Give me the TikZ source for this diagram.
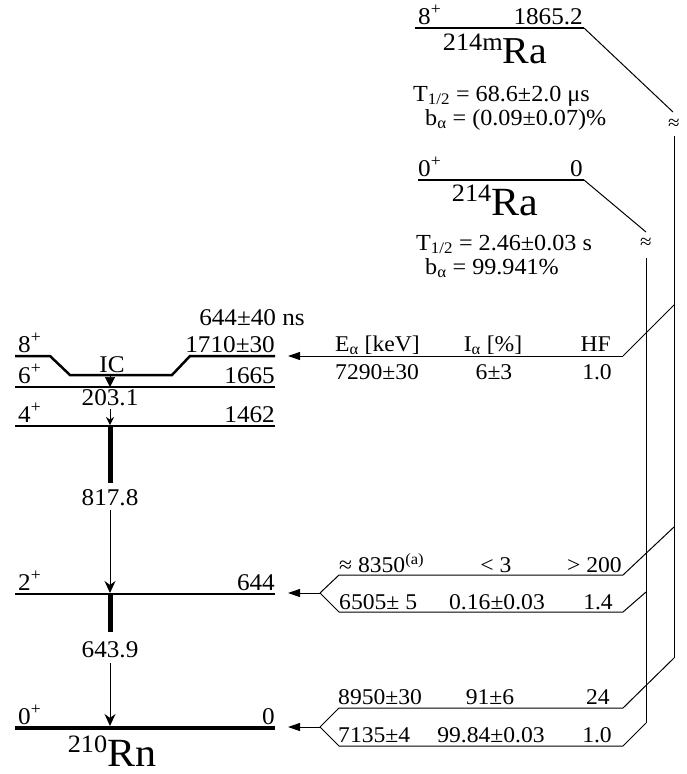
\documentclass[tikz,border=0pt]{standalone}
\usepackage{fontspec}
\setmainfont{Liberation Serif}[FakeStretch=1.05]
\usetikzlibrary{arrows.meta}
\newcommand{\nucl}[4]{{\fontsize{#3}{#3}\selectfont\raisebox{0.33em}{\fontsize{#4}{#4}\selectfont #1}#2}}
\begin{document}
\begin{tikzpicture}[x=1pt,y=-1pt,
  lvl/.style={line width=1.2pt},
  conn/.style={line width=1pt},
  lab/.style={font=\fontsize{24}{26}\selectfont, inner sep=0pt},
  tab/.style={font=\fontsize{22.5}{24}\selectfont, inner sep=0pt},
  half/.style={font=\fontsize{23}{24}\selectfont, inner sep=0pt},
  apx/.style={font=\fontsize{20}{20}\selectfont, inner sep=0pt},
  alph/.style={conn,-{Triangle[length=12pt,width=8pt]}},
  gam/.style={line width=1pt,-{Stealth[length=12pt,width=11pt]}},
  thk/.style={line width=5pt},
]
\useasboundingbox (0,0) rectangle (686,774);

% ---------- 210Rn levels ----------
\coordinate (r8a) at (15,356);
\coordinate (r8b) at (275,356);
\draw[line width=2.5pt,line join=miter] (r8a) -- (50,356) -- (70,375) -- (172,375) -- (190,356) -- (r8b);
\coordinate (r6a) at (15,387);  \coordinate (r6b) at (275,387);
\coordinate (r4a) at (15,426);  \coordinate (r4b) at (275,426);
\coordinate (r2a) at (15,594);  \coordinate (r2b) at (275,594);
\coordinate (r0a) at (15,728);  \coordinate (r0b) at (275,728);
\draw[lvl] (r6a) -- (r6b);
\draw[lvl] (r4a) -- (r4b);
\draw[lvl] (r2a) -- (r2b);
\draw[line width=3.5pt] (r0a) -- (r0b);

\node[lab,anchor=base west] (s8) at (18,352) {8\textsuperscript{+}};
\node[lab,anchor=base east] (e8) at (275,352) {1710±30};
\node[lab,anchor=base east] (t8) at (305,325) {644±40 ns};
\node[lab,anchor=base] (ic) at (112,372) {IC};
\node[lab,anchor=base west] (s6) at (18,383) {6\textsuperscript{+}};
\node[lab,anchor=base east] (e6) at (275,383) {1665};
\node[lab,anchor=base] (g0) at (110,405) {203.1};
\node[lab,anchor=base west] (s4) at (18,422) {4\textsuperscript{+}};
\node[lab,anchor=base east] (e4) at (275,422) {1462};
\node[lab,anchor=base] (g1) at (110,505) {817.8};
\node[lab,anchor=base west] (s2) at (18,590) {2\textsuperscript{+}};
\node[lab,anchor=base east] (e2) at (275,590) {644};
\node[lab,anchor=base] (g2) at (110,657) {643.9};
\node[lab,anchor=base west] (s0) at (18,724) {0\textsuperscript{+}};
\node[lab,anchor=base east] (e0) at (275,724) {0};
\node[inner sep=0pt,anchor=base] (rn) at (112,766) {\nucl{210}{Rn}{40}{25}};

% gamma transitions
\coordinate (ica) at (110,376); \coordinate (icb) at (110,387);
\draw[line width=0.5pt,-{Triangle[length=10pt,width=10pt]}] (ica) -- (icb);
\coordinate (ga) at (110,409); \coordinate (gb) at (110,425);
\draw[line width=1pt,-{Stealth[length=8pt,width=8pt]}] (ga) -- (gb);
\coordinate (t1a) at (110,426); \coordinate (t1b) at (110,483);
\draw[thk] (t1a) -- (t1b);
\coordinate (a1a) at (110,510); \coordinate (a1b) at (110,593);
\draw[gam] (a1a) -- (a1b);
\coordinate (t2a) at (110,594); \coordinate (t2b) at (110,632);
\draw[thk] (t2a) -- (t2b);
\coordinate (a2a) at (110,663); \coordinate (a2b) at (110,726);
\draw[gam] (a2a) -- (a2b);

% ---------- 214mRa ----------
\coordinate (m1) at (415,28); \coordinate (m2) at (584,28);
\draw[line width=1.5pt] (m1) -- (m2);
\node[lab,anchor=base west] (ms) at (418,24) {8\textsuperscript{+}};
\node[lab,anchor=base east] (me) at (583,24) {1865.2};
\node[inner sep=0pt,anchor=base] (mra) at (495,63) {\nucl{214m}{Ra}{38}{25}};
\node[half,anchor=base west] (mt) at (413,101) {T\textsubscript{1/2} = 68.6±2.0 μs};
\node[half,anchor=base west] (mb) at (425,125) {b\textsubscript{α} = (0.09±0.07)\%};
\coordinate (m3) at (673,112);
\draw[conn] (m2) -- (m3);
\node[apx] (mapx) at (674,124) {≈};
\coordinate (mv1) at (674,136); \coordinate (mv2) at (674,658);
\draw[conn] (mv1) -- (mv2);

% ---------- 214Ra ----------
\coordinate (g1a) at (418,180); \coordinate (g1b) at (584,180);
\draw[line width=1.5pt] (g1a) -- (g1b);
\node[lab,anchor=base west] (gs) at (418,176) {0\textsuperscript{+}};
\node[lab,anchor=base east] (ge) at (583,176) {0};
\node[inner sep=0pt,anchor=base] (gra) at (495,215) {\nucl{214}{Ra}{40}{25}};
\node[half,anchor=base west] (gt) at (416,250) {T\textsubscript{1/2} = 2.46±0.03 s};
\node[half,anchor=base west] (gb2) at (425,274) {b\textsubscript{α} = 99.941\%};
\coordinate (g3) at (646,232);
\draw[conn] (g1b) -- (g3);
\node[apx] (gapx) at (646,243) {≈};
\coordinate (gv1) at (646,258); \coordinate (gv2) at (646,723);
\draw[conn] (gv1) -- (gv2);

% ---------- alpha branches ----------
% 7290
\coordinate (b1) at (674,305); \coordinate (b1e) at (623,356); \coordinate (b1t) at (288,356);
\draw[conn] (b1) -- (b1e);
\draw[alph] (b1e) -- (b1t);
\node[tab,anchor=base west] at (335,351) {E\textsubscript{α} [keV]};
\node[tab,anchor=base] at (493,351) {I\textsubscript{α} [\%]};
\node[tab,anchor=base east] at (611,351) {HF};
\node[tab,anchor=base west] at (335,379) {7290±30};
\node[tab,anchor=base] at (494,379) {6±3};
\node[tab,anchor=base east] at (612,379) {1.0};

% 8350 / 6505
\coordinate (b2) at (674,527); \coordinate (b2e) at (623,575); \coordinate (b2s) at (339,575);
\coordinate (b3) at (646,592); \coordinate (b3e) at (623,612); \coordinate (b3s) at (339,612);
\coordinate (j1) at (320,593); \coordinate (j1t) at (288,593);
\draw[conn] (b2) -- (b2e) -- (b2s) -- (j1);
\draw[conn] (b3) -- (b3e) -- (b3s) -- (j1);
\draw[alph] (j1) -- (j1t);
\node[tab,anchor=base west] at (339,572) {≈ 8350\textsuperscript{(a)}};
\node[tab,anchor=base] at (496,572) {< 3};
\node[tab,anchor=base east] at (622,572) {> 200};
\node[tab,anchor=base west] at (339,609) {6505± 5};
\node[tab,anchor=base] at (497,609) {0.16±0.03};
\node[tab,anchor=base east] at (613,609) {1.4};

% 8950 / 7135
\coordinate (b4) at (674,658); \coordinate (b4e) at (623,708); \coordinate (b4s) at (339,708);
\coordinate (b5) at (646,723); \coordinate (b5e) at (623,746); \coordinate (b5s) at (339,746);
\coordinate (j2) at (320,727); \coordinate (j2t) at (288,727);
\draw[conn] (b4) -- (b4e) -- (b4s) -- (j2);
\draw[conn] (b5) -- (b5e) -- (b5s) -- (j2);
\draw[alph] (j2) -- (j2t);
\node[tab,anchor=base west] at (338,704) {8950±30};
\node[tab,anchor=base] at (490,704) {91±6};
\node[tab,anchor=base east] at (610,704) {24};
\node[tab,anchor=base west] at (338,742) {7135±4};
\node[tab,anchor=base] at (491,742) {99.84±0.03};
\node[tab,anchor=base east] at (612,742) {1.0};
\end{tikzpicture}
\end{document}
